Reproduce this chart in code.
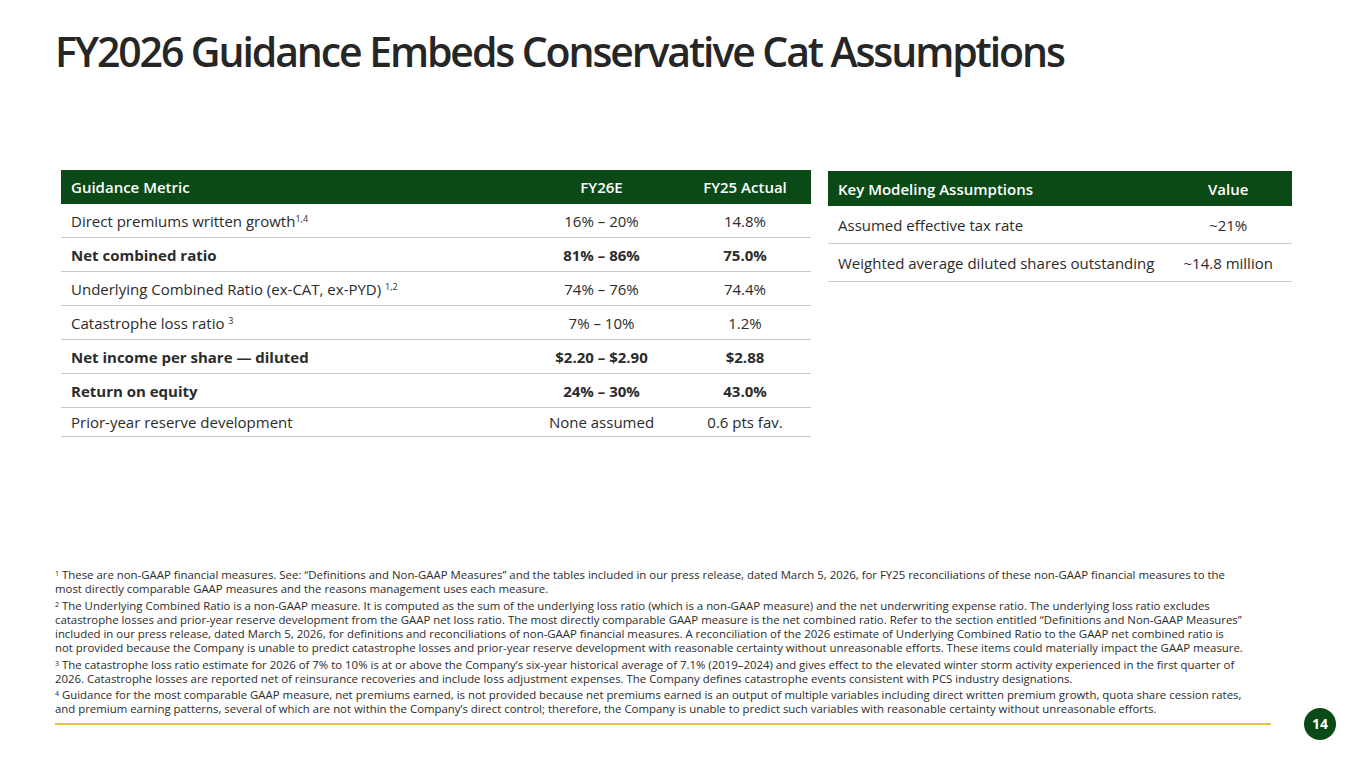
<!DOCTYPE html>
<html lang="en">
<head>
  <meta charset="UTF-8">
  <title>FY2026 Guidance</title>
  <script src="https://cdn.jsdelivr.net/npm/chart.js"></script>
  <style>
    body {
      margin: 0;
      width: 1365px;
      height: 768px;
      background: #ffffff;
      font-family: "Open Sans", sans-serif;
      color: #2b2b2b;
      position: relative;
      overflow: hidden;
    }
    h1 {
      position: absolute;
      left: 55px;
      top: 23px;
      margin: 0;
      font-size: 41px;
      font-weight: 600;
      letter-spacing: -2.1px;
      color: #262626;
    }
    table {
      position: absolute;
      border-collapse: collapse;
      font-size: 15px;
    }
    th {
      background: #0b4a17;
      color: #ffffff;
      font-weight: 600;
      text-align: left;
      padding: 0 10px;
      white-space: nowrap;
    }
    td {
      border-bottom: 1px solid #c8c8c8;
      padding: 0 10px;
      white-space: nowrap;
    }
    .c { text-align: center; }
    .b td { font-weight: 700; }
    sup { font-size: 9px; vertical-align: 5px; line-height: 0; }
    #guide { left: 61px; top: 170px; width: 750px; }
    #guide th { height: 34px; }
    #guide td { height: 33px; }
    #guide tr:last-child td { height: 28px; }
    #assume { left: 828px; top: 171px; width: 464px; }
    #assume th { height: 35px; }
    #assume td { height: 37px; }
    #notes {
      position: absolute;
      left: 55px;
      top: 568px;
      font-size: 11.4px;
      line-height: 14.1px;
      color: #2b2b2b;
    }
    #notes p { margin: 0 0 2.5px 0; white-space: nowrap; }
    #notes sup { font-size: 7px; vertical-align: 3px; }
    #rule {
      position: absolute;
      left: 55px;
      top: 723px;
      width: 1216px;
      height: 2px;
      background: #e9c24c;
    }
    #page {
      position: absolute;
      left: 1304px;
      top: 708px;
      width: 32px;
      height: 32px;
      border-radius: 50%;
      background: #0b4a17;
      color: #fff;
      font-weight: 700;
      font-size: 14px;
      line-height: 32px;
      text-align: center;
    }
  </style>
</head>
<body>
  <h1 id="title"></h1>
  <table id="guide"></table>
  <table id="assume"></table>
  <div id="notes"></div>
  <div id="rule"></div>
  <div id="page">14</div>
<script>
  const title = 'FY2026 Guidance Embeds Conservative Cat Assumptions';

  const guideHeader = ['Guidance Metric', 'FY26E', 'FY25 Actual'];
  const guideMetrics = [
    'Direct premiums written growth<sup>1,4</sup>',
    'Net combined ratio',
    'Underlying Combined Ratio (ex-CAT, ex-PYD) <sup>1,2</sup>',
    'Catastrophe loss ratio <sup>3</sup>',
    'Net income per share \u2014 diluted',
    'Return on equity',
    'Prior-year reserve development'
  ];
  const guideFY26 = ['16% \u2013 20%', '81% \u2013 86%', '74% \u2013 76%', '7% \u2013 10%', '$2.20 \u2013 $2.90', '24% \u2013 30%', 'None assumed'];
  const guideFY25 = ['14.8%', '75.0%', '74.4%', '1.2%', '$2.88', '43.0%', '0.6 pts fav.'];
  const guideBold = [false, true, false, false, true, true, false];

  const assumeHeader = ['Key Modeling Assumptions', 'Value'];
  const assumeItems = ['Assumed effective tax rate', 'Weighted average diluted shares outstanding'];
  const assumeValues = ['~21%', '~14.8 million'];

  const footnotes = [
    ['<sup>1</sup> These are non-GAAP financial measures. See: \u201cDefinitions and Non-GAAP Measures\u201d and the tables included in our press release, dated March 5, 2026, for FY25 reconciliations of these non-GAAP financial measures to the',
     'most directly comparable GAAP measures and the reasons management uses each measure.'],
    ['<sup>2</sup> The Underlying Combined Ratio is a non-GAAP measure. It is computed as the sum of the underlying loss ratio (which is a non-GAAP measure) and the net underwriting expense ratio. The underlying loss ratio excludes',
     'catastrophe losses and prior-year reserve development from the GAAP net loss ratio. The most directly comparable GAAP measure is the net combined ratio. Refer to the section entitled \u201cDefinitions and Non-GAAP Measures\u201d',
     'included in our press release, dated March 5, 2026, for definitions and reconciliations of non-GAAP financial measures. A reconciliation of the 2026 estimate of Underlying Combined Ratio to the GAAP net combined ratio is',
     'not provided because the Company is unable to predict catastrophe losses and prior-year reserve development with reasonable certainty without unreasonable efforts. These items could materially impact the GAAP measure.'],
    ['<sup>3</sup> The catastrophe loss ratio estimate for 2026 of 7% to 10% is at or above the Company\u2019s six-year historical average of 7.1% (2019\u20132024) and gives effect to the elevated winter storm activity experienced in the first quarter of',
     '2026. Catastrophe losses are reported net of reinsurance recoveries and include loss adjustment expenses. The Company defines catastrophe events consistent with PCS industry designations.'],
    ['<sup>4</sup> Guidance for the most comparable GAAP measure, net premiums earned, is not provided because net premiums earned is an output of multiple variables including direct written premium growth, quota share cession rates,',
     'and premium earning patterns, several of which are not within the Company\u2019s direct control; therefore, the Company is unable to predict such variables with reasonable certainty without unreasonable efforts.']
  ];

  document.getElementById('title').textContent = title;

  function buildGuide() {
    const table = document.getElementById('guide');
    let html = '<tr><th>' + guideHeader[0] + '</th><th class="c" style="width:135px">' + guideHeader[1] +
      '</th><th class="c" style="width:112px">' + guideHeader[2] + '</th></tr>';
    guideMetrics.forEach((m, i) => {
      html += '<tr' + (guideBold[i] ? ' class="b"' : '') + '><td>' + m + '</td><td class="c">' + guideFY26[i] +
        '</td><td class="c">' + guideFY25[i] + '</td></tr>';
    });
    table.innerHTML = html;
  }

  function buildAssume() {
    const table = document.getElementById('assume');
    let html = '<tr><th>' + assumeHeader[0] + '</th><th class="c" style="width:115px">' + assumeHeader[1] + '</th></tr>';
    assumeItems.forEach((m, i) => {
      html += '<tr><td>' + m + '</td><td class="c">' + assumeValues[i] + '</td></tr>';
    });
    table.innerHTML = html;
  }

  function buildNotes() {
    const box = document.getElementById('notes');
    box.innerHTML = footnotes.map(lines => '<p>' + lines.join('<br>') + '</p>').join('');
  }

  buildGuide();
  buildAssume();
  buildNotes();
</script>
</body>
</html>
